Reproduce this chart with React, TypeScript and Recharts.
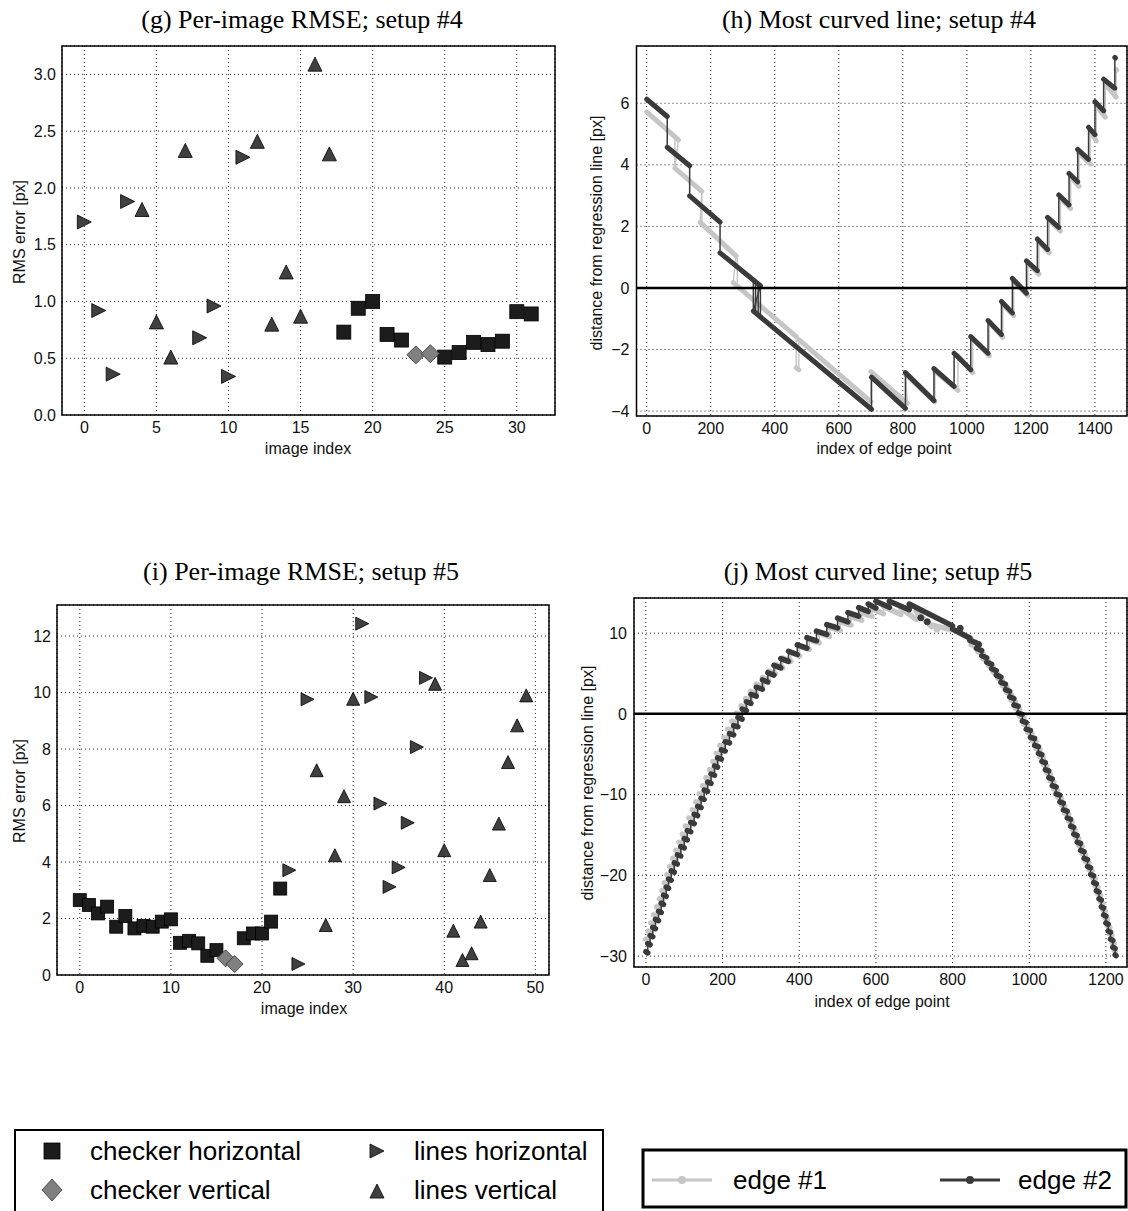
import {
  ScatterChart,
  Scatter,
  LineChart,
  Line,
  XAxis,
  YAxis,
  CartesianGrid,
  ReferenceArea,
  ReferenceLine,
} from "recharts"

const SANS = "'Liberation Sans', Arial, sans-serif"
const SERIF = "'Liberation Serif', 'Times New Roman', serif"
const LIGHT = "#c6c6c6"
const DARK = "#3a3a3a"

// (g) setup #4 -- [image index, RMS error px]
const gCheckerHorizontal = [
  [18, 0.73], [19, 0.94], [20, 1.0], [21, 0.71], [22, 0.66], [25, 0.51],
  [26, 0.55], [27, 0.64], [28, 0.62], [29, 0.65], [30, 0.91], [31, 0.89],
]
const gCheckerVertical = [[23, 0.53], [24, 0.54]]
const gLinesHorizontal = [
  [0, 1.7], [1, 0.92], [2, 0.36], [3, 1.88], [8, 0.68], [9, 0.96], [10, 0.34], [11, 2.27],
]
const gLinesVertical = [
  [4, 1.81], [5, 0.82], [6, 0.51], [7, 2.33], [12, 2.41], [13, 0.8], [14, 1.26],
  [15, 0.87], [16, 3.09], [17, 2.3],
]

// (i) setup #5
const iCheckerHorizontal = [
  [0, 2.65], [1, 2.48], [2, 2.18], [3, 2.42], [4, 1.71], [5, 2.09], [6, 1.65],
  [7, 1.74], [8, 1.71], [9, 1.89], [10, 1.97], [11, 1.14], [12, 1.21], [13, 1.12],
  [14, 0.68], [15, 0.88], [18, 1.3], [19, 1.47], [20, 1.47], [21, 1.89], [22, 3.06],
]
const iCheckerVertical = [[16, 0.59], [17, 0.39]]
const iLinesHorizontal = [
  [23, 3.71], [24, 0.39], [25, 9.76], [31, 12.44], [32, 9.84], [33, 6.07],
  [34, 3.12], [35, 3.81], [36, 5.39], [37, 8.07], [38, 10.52],
]
const iLinesVertical = [
  [26, 7.25], [27, 1.77], [28, 4.24], [29, 6.33], [30, 9.78], [39, 10.31],
  [40, 4.42], [41, 1.57], [42, 0.53], [43, 0.77], [44, 1.89], [45, 3.54],
  [46, 5.36], [47, 7.54], [48, 8.84], [49, 9.9],
]

// (h) most curved line, setup #4 -- runs of edge points [x1, y1, x2, y2]
const hEdge1Runs = [
  [0, 5.72, 99, 4.81], [88, 3.89, 172, 3.14], [167, 2.13, 279, 1.04],
  [270, 0.17, 467, -1.58], [467, -2.6, 475, -2.66], [475, -1.68, 700, -3.69],
  [700, -2.72, 814, -3.75], [808, -2.8, 900, -3.7], [900, -2.7, 972, -3.33],
  [972, -2.2, 1018, -2.75], [1018, -1.65, 1070, -2.2], [1070, -1.12, 1112, -1.6],
  [1112, -0.52, 1146, -0.9], [1146, 0.2, 1190, -0.25], [1190, 0.8, 1225, 0.45],
  [1225, 1.5, 1257, 1.14], [1257, 2.2, 1292, 1.85], [1292, 2.92, 1324, 2.58],
  [1324, 3.62, 1350, 3.3], [1350, 4.38, 1385, 4.03], [1385, 5.1, 1404, 4.78],
  [1404, 5.92, 1432, 5.55], [1432, 6.62, 1466, 6.2], [1466, 7.1, 1468, 7.08],
]
const hEdge1Jumps = [[88, 4.93, 3.89], [283, 1.0, 0.17], [172, 3.14, 2.13]]
const hEdge2Runs = [
  [0, 6.13, 64, 5.57], [64, 4.57, 134, 3.97], [134, 2.99, 229, 2.14],
  [229, 1.14, 355, 0.07], [333, -0.75, 702, -3.94], [702, -2.9, 808, -3.91],
  [808, -2.75, 897, -3.66], [897, -2.62, 960, -3.2], [960, -2.12, 1012, -2.66],
  [1012, -1.58, 1066, -2.12], [1066, -1.06, 1108, -1.51], [1108, -0.44, 1142, -0.81],
  [1142, 0.31, 1186, -0.17], [1186, 0.88, 1220, 0.56], [1220, 1.59, 1252, 1.25],
  [1252, 2.29, 1287, 1.97], [1287, 3.02, 1319, 2.7], [1319, 3.72, 1346, 3.45],
  [1346, 4.5, 1380, 4.18], [1380, 5.22, 1400, 4.98], [1400, 6.05, 1427, 5.76],
  [1427, 6.78, 1462, 6.49], [1462, 7.49, 1464, 7.47],
]
const hEdge2Jumps = [[333, 0.26, -0.75], [340, 0.2, -0.8], [348, 0.13, -0.87], [355, 0.07, -0.92]]

// (j) most curved line, setup #5 -- steps [x start, y start, y end], each runs to the next x
const jEdge1Steps = [
  [0, -27.9, -28.05], [6, -26.9, -27.05], [13, -25.9, -26.05], [20, -24.9, -25.05],
  [28, -23.9, -24.05], [35, -22.9, -23.05], [42, -21.9, -22.05], [48, -20.9, -21.05],
  [55, -19.9, -20.05], [62, -18.9, -19.05], [70, -17.9, -18.05], [78, -16.9, -17.05],
  [86, -15.9, -16.05], [95, -14.9, -15.05], [103, -13.9, -14.05], [112, -12.9, -13.05],
  [121, -11.9, -12.05], [130, -10.9, -11.05], [139, -9.9, -10.05], [148, -8.9, -9.05],
  [157, -7.9, -8.05], [166, -6.9, -7.05], [175, -5.9, -6.05], [184, -4.9, -5.05],
  [193, -3.9, -4.05], [203, -2.9, -3.05], [213, -1.9, -2.05], [224, -0.9, -1.1],
  [236, 0.1, -0.1], [248, 1.0, 0.8], [260, 1.9, 1.7], [273, 2.8, 2.55],
  [288, 3.7, 3.4], [304, 4.5, 4.2], [320, 5.3, 5.0], [338, 6.1, 5.7],
  [357, 6.9, 6.5], [378, 7.6, 7.2], [401, 8.4, 8.0], [426, 9.2, 8.8],
  [452, 10.0, 9.6], [479, 10.7, 10.3], [507, 11.4, 11.0], [535, 12.0, 11.6],
  [563, 12.5, 12.1], [590, 13.0, 12.4], [620, 13.3, 12.3], [665, 13.1, 11.7],
  [705, 12.7, 10.8], [745, 11.0, 10.5], [790, 10.7, 9.3],
  [848, 8.6, 8.3], [866, 7.7, 7.45], [880, 6.8, 6.55], [893, 6.0, 5.75],
  [906, 5.2, 4.95], [918, 4.4, 4.15], [930, 3.5, 3.3], [942, 2.6, 2.4],
  [953, 1.7, 1.5], [964, 0.7, 0.55], [975, -0.3, -0.45], [986, -1.3, -1.45],
  [996, -2.3, -2.45], [1007, -3.3, -3.45], [1018, -4.3, -4.45], [1028, -5.3, -5.45],
  [1037, -6.3, -6.45], [1046, -7.3, -7.45], [1055, -8.3, -8.45], [1064, -9.3, -9.45],
  [1074, -10.3, -10.45], [1084, -11.3, -11.45], [1093, -12.3, -12.45], [1103, -13.3, -13.45],
  [1112, -14.3, -14.45], [1120, -15.3, -15.45], [1129, -16.3, -16.45], [1138, -17.3, -17.45],
  [1147, -18.3, -18.45], [1156, -19.3, -19.45], [1164, -20.3, -20.45], [1172, -21.3, -21.45],
  [1179, -22.3, -22.45], [1186, -23.3, -23.45], [1192, -24.3, -24.45], [1198, -25.3, -25.45],
  [1204, -26.3, -26.45], [1210, -27.3, -27.45], [1216, -28.3, -28.45], [1222, -29.3, -29.45],
]
const jEdge2Steps = [
  [0, -29.45, -29.6], [5, -28.45, -28.6], [11, -27.45, -27.6], [18, -26.45, -26.6],
  [25, -25.45, -25.6], [33, -24.45, -24.6], [40, -23.45, -23.6], [46, -22.45, -22.6],
  [53, -21.45, -21.6], [59, -20.45, -20.6], [66, -19.45, -19.6], [74, -18.45, -18.6],
  [82, -17.45, -17.6], [91, -16.45, -16.6], [100, -15.45, -15.6], [108, -14.45, -14.6],
  [117, -13.45, -13.6], [126, -12.45, -12.6], [135, -11.45, -11.6], [144, -10.45, -10.6],
  [152, -9.45, -9.6], [161, -8.45, -8.6], [170, -7.45, -7.6], [179, -6.45, -6.6],
  [187, -5.45, -5.6], [197, -4.45, -4.6], [207, -3.45, -3.6], [218, -2.45, -2.6],
  [229, -1.45, -1.6], [240, -0.45, -0.65], [251, 0.6, 0.4], [262, 1.5, 1.3],
  [274, 2.4, 2.2], [288, 3.3, 3.05], [304, 4.2, 3.95], [318, 5.1, 4.8],
  [334, 6.0, 5.7], [352, 6.85, 6.5], [372, 7.75, 7.35], [395, 8.55, 8.15],
  [420, 9.45, 9.05], [445, 10.25, 9.85], [472, 11.05, 10.65], [500, 11.85, 11.4],
  [527, 12.55, 12.1], [555, 13.15, 12.7], [580, 13.6, 13.1], [600, 13.95, 13.2],
  [635, 13.95, 12.9], [687, 13.6, 10.9],
  [800, 10.5, 9.4], [845, 9.1, 8.8], [862, 8.1, 7.85], [876, 7.2, 6.95],
  [889, 6.4, 6.15], [902, 5.6, 5.35], [914, 4.8, 4.55], [926, 3.9, 3.7],
  [938, 3.0, 2.8], [949, 2.1, 1.9], [960, 1.1, 0.95], [971, 0.1, -0.05],
  [982, -0.9, -1.05], [992, -1.9, -2.05], [1003, -2.9, -3.05], [1014, -3.9, -4.05],
  [1024, -4.9, -5.05], [1033, -5.9, -6.05], [1042, -6.9, -7.05], [1051, -7.9, -8.05],
  [1060, -8.9, -9.05], [1070, -9.9, -10.05], [1080, -10.9, -11.05], [1089, -11.9, -12.05],
  [1099, -12.9, -13.05], [1108, -13.9, -14.05], [1116, -14.9, -15.05], [1125, -15.9, -16.05],
  [1134, -16.9, -17.05], [1143, -17.9, -18.05], [1152, -18.9, -19.05], [1160, -19.9, -20.05],
  [1168, -20.9, -21.05], [1175, -21.9, -22.05], [1182, -22.9, -23.05], [1188, -23.9, -24.05],
  [1194, -24.9, -25.05], [1200, -25.9, -26.05], [1206, -26.9, -27.05], [1212, -27.9, -28.05],
  [1218, -28.9, -29.05], [1224, -29.85, -29.95],
]
const jEdge1Strays = [[759, 10.5]]
const jEdge2Strays = [[717, 11.9], [734, 11.4], [820, 10.6], [868, 8.6]]

type Row = { x: number; y: number | null }

const toPoints = (pairs: number[][]) => pairs.map(([x, y]) => ({ x, y }))

// thick runs, broken between runs
function runRows(runs: number[][]): Row[] {
  const rows: Row[] = []
  runs.forEach(([x1, y1, x2, y2]) => {
    rows.push({ x: x1, y: y1 }, { x: x2, y: y2 }, { x: x2, y: null })
  })
  return rows
}

// thin polyline through every run end (draws the jumps)
function chainRows(runs: number[][]): Row[] {
  const rows: Row[] = []
  runs.forEach(([x1, y1, x2, y2]) => rows.push({ x: x1, y: y1 }, { x: x2, y: y2 }))
  return rows
}

function jumpRows(jumps: number[][]): Row[] {
  const rows: Row[] = []
  jumps.forEach(([x, y1, y2]) => rows.push({ x, y: y1 }, { x, y: y2 }, { x, y: null }))
  return rows
}

function stepsToRuns(steps: number[][]): number[][] {
  return steps.map(([x, y1, y2], i) => {
    const next = i < steps.length - 1 ? steps[i + 1][0] : x + 2
    return [x, y1, next, y2]
  })
}

const minus = (v: number) => String(v).replace("-", "\u2212")
const tickStyle = { fontSize: 16, fill: "#111", fontFamily: SANS }

// ---- markers ----
function SquareMark({ cx, cy, s = 14 }: { cx: number; cy: number; s?: number }) {
  return <rect x={cx - s / 2} y={cy - s / 2} width={s} height={s} fill="#1c1c1c" stroke="#000" strokeWidth={0.8} />
}
function DiamondMark({ cx, cy, w = 18, h = 18 }: { cx: number; cy: number; w?: number; h?: number }) {
  return (
    <polygon
      points={`${cx},${cy - h / 2} ${cx + w / 2},${cy} ${cx},${cy + h / 2} ${cx - w / 2},${cy}`}
      fill="#808080"
      stroke="#333"
      strokeWidth={0.8}
    />
  )
}
function RightMark({ cx, cy, s = 14 }: { cx: number; cy: number; s?: number }) {
  return (
    <polygon
      points={`${cx - s / 2},${cy - s / 2} ${cx + s / 2},${cy} ${cx - s / 2},${cy + s / 2}`}
      fill="#404040"
      stroke="#000"
      strokeWidth={0.8}
    />
  )
}
function UpMark({ cx, cy, s = 14 }: { cx: number; cy: number; s?: number }) {
  return (
    <polygon
      points={`${cx},${cy - s / 2} ${cx + s / 2},${cy + s / 2} ${cx - s / 2},${cy + s / 2}`}
      fill="#404040"
      stroke="#000"
      strokeWidth={0.8}
    />
  )
}

interface RmseProps {
  checkerH: number[][]
  checkerV: number[][]
  linesH: number[][]
  linesV: number[][]
  xDomain: [number, number]
  yDomain: [number, number]
  xTicks: number[]
  yTicks: number[]
  yFormat: (v: number) => string
  yWidth: number
  margin: { top: number; right: number; bottom: number; left: number }
  mark: number
}

function RmseChart(p: RmseProps) {
  return (
    <ScatterChart width={560} height={470} margin={p.margin}>
      <CartesianGrid stroke="#222" strokeDasharray="1 3" strokeWidth={1} />
      <XAxis
        type="number"
        dataKey="x"
        domain={p.xDomain}
        ticks={p.xTicks}
        allowDataOverflow
        height={55}
        axisLine={false}
        tickLine={false}
        tickSize={0}
        tickMargin={7}
        tick={tickStyle}
      />
      <YAxis
        type="number"
        dataKey="y"
        domain={p.yDomain}
        ticks={p.yTicks}
        allowDataOverflow
        width={p.yWidth}
        axisLine={false}
        tickLine={false}
        tickSize={0}
        tickMargin={6}
        tick={tickStyle}
        tickFormatter={p.yFormat}
      />
      <ReferenceArea
        x1={p.xDomain[0]}
        x2={p.xDomain[1]}
        y1={p.yDomain[0]}
        y2={p.yDomain[1]}
        fill="none"
        stroke="#000"
        strokeWidth={1.5}
      />
      <Scatter
        data={toPoints(p.linesH)}
        isAnimationActive={false}
        shape={(s: any) => <RightMark cx={s.cx} cy={s.cy} s={p.mark} />}
      />
      <Scatter
        data={toPoints(p.linesV)}
        isAnimationActive={false}
        shape={(s: any) => <UpMark cx={s.cx} cy={s.cy} s={p.mark} />}
      />
      <Scatter
        data={toPoints(p.checkerH)}
        isAnimationActive={false}
        shape={(s: any) => <SquareMark cx={s.cx} cy={s.cy} s={p.mark} />}
      />
      <Scatter
        data={toPoints(p.checkerV)}
        isAnimationActive={false}
        shape={(s: any) => <DiamondMark cx={s.cx} cy={s.cy} w={p.mark + 4} h={p.mark + 4} />}
      />
    </ScatterChart>
  )
}

interface CurveProps {
  edge1Runs: number[][]
  edge2Runs: number[][]
  edge1Jumps?: number[][]
  edge2Jumps?: number[][]
  edge1Strays?: number[][]
  edge2Strays?: number[][]
  xDomain: [number, number]
  yDomain: [number, number]
  xTicks: number[]
  yTicks: number[]
  yWidth: number
  xHeight: number
  runWidth: number
  margin: { top: number; right: number; bottom: number; left: number }
}

function CurveChart(p: CurveProps) {
  const thin = (data: Row[], color: string, w: number) => (
    <Line
      data={data}
      dataKey="y"
      stroke={color}
      strokeWidth={w}
      dot={false}
      activeDot={false}
      connectNulls={false}
      isAnimationActive={false}
    />
  )
  const thick = (data: Row[], color: string) => (
    <Line
      data={data}
      dataKey="y"
      stroke={color}
      strokeWidth={p.runWidth}
      strokeLinecap="round"
      dot={false}
      activeDot={false}
      connectNulls={false}
      isAnimationActive={false}
    />
  )
  const strays = (pairs: number[][], color: string) => (
    <Line
      data={toPoints(pairs)}
      dataKey="y"
      stroke="none"
      dot={{ r: 3, fill: color, stroke: color }}
      activeDot={false}
      isAnimationActive={false}
    />
  )
  return (
    <LineChart width={548} height={470} margin={p.margin}>
      <CartesianGrid stroke="#222" strokeDasharray="1 3" strokeWidth={1} />
      <XAxis
        type="number"
        dataKey="x"
        domain={p.xDomain}
        ticks={p.xTicks}
        allowDataOverflow
        height={p.xHeight}
        axisLine={false}
        tickLine={false}
        tickSize={0}
        tickMargin={7}
        tick={tickStyle}
      />
      <YAxis
        type="number"
        domain={p.yDomain}
        ticks={p.yTicks}
        allowDataOverflow
        width={p.yWidth}
        axisLine={false}
        tickLine={false}
        tickSize={0}
        tickMargin={7}
        tick={tickStyle}
        tickFormatter={minus}
      />
      {thin(chainRows(p.edge1Runs), LIGHT, 1.5)}
      {p.edge1Jumps && thin(jumpRows(p.edge1Jumps), LIGHT, 1.5)}
      {thick(runRows(p.edge1Runs), LIGHT)}
      {p.edge1Strays && strays(p.edge1Strays, LIGHT)}
      {thin(chainRows(p.edge2Runs), DARK, 1.5)}
      {p.edge2Jumps && thin(jumpRows(p.edge2Jumps), DARK, 1.5)}
      {thick(runRows(p.edge2Runs), DARK)}
      {p.edge2Strays && strays(p.edge2Strays, DARK)}
      <ReferenceLine y={0} stroke="#000" strokeWidth={2.5} />
      <ReferenceArea
        x1={p.xDomain[0]}
        x2={p.xDomain[1]}
        y1={p.yDomain[0]}
        y2={p.yDomain[1]}
        fill="none"
        stroke="#000"
        strokeWidth={1.5}
      />
    </LineChart>
  )
}

function Overlay() {
  const title = { fontFamily: SERIF, fontSize: 26, fill: "#000", textAnchor: "middle" as const }
  const axis = { fontFamily: SANS, fontSize: 16, fill: "#111", textAnchor: "middle" as const, dominantBaseline: "central" as const }
  const leg = { fontFamily: SANS, fontSize: 26, fill: "#000", dominantBaseline: "central" as const }
  return (
    <svg width={1128} height={1211} style={{ position: "absolute", left: 0, top: 0, pointerEvents: "none" }}>
      <text x={302} y={28} {...title}>(g) Per-image RMSE; setup #4</text>
      <text x={879} y={28} {...title}>(h) Most curved line; setup #4</text>
      <text x={301} y={580} {...title}>(i) Per-image RMSE; setup #5</text>
      <text x={878} y={580} {...title}>(j) Most curved line; setup #5</text>

      <text x={308} y={448} {...axis}>image index</text>
      <text x={884} y={448} {...axis}>index of edge point</text>
      <text x={304} y={1008} {...axis}>image index</text>
      <text x={882} y={1001} {...axis}>index of edge point</text>
      <text transform="translate(19,232) rotate(-90)" {...axis}>RMS error [px]</text>
      <text transform="translate(596,233) rotate(-90)" {...axis}>distance from regression line [px]</text>
      <text transform="translate(19,791) rotate(-90)" {...axis}>RMS error [px]</text>
      <text transform="translate(587,783) rotate(-90)" {...axis}>distance from regression line [px]</text>

      {/* marker legend */}
      <rect x={15} y={1130} width={588} height={90} fill="#fff" stroke="#000" strokeWidth={2} />
      <SquareMark cx={52} cy={1151} s={16} />
      <text x={90} y={1151} {...leg}>checker horizontal</text>
      <DiamondMark cx={52} cy={1190} w={20} h={22} />
      <text x={90} y={1190} {...leg}>checker vertical</text>
      <RightMark cx={377} cy={1151} s={14} />
      <text x={414} y={1151} {...leg}>lines horizontal</text>
      <UpMark cx={377} cy={1191} s={14} />
      <text x={414} y={1190} {...leg}>lines vertical</text>

      {/* edge legend */}
      <rect x={643} y={1150} width={483} height={57} fill="#fff" stroke="#000" strokeWidth={3} />
      <line x1={652} y1={1180} x2={712} y2={1180} stroke={LIGHT} strokeWidth={3} />
      <circle cx={682} cy={1180} r={4} fill={LIGHT} />
      <text x={733} y={1180} {...leg}>edge #1</text>
      <line x1={940} y1={1180} x2={1000} y2={1180} stroke={DARK} strokeWidth={3} />
      <circle cx={970} cy={1180} r={4} fill={DARK} />
      <text x={1018} y={1180} {...leg}>edge #2</text>
    </svg>
  )
}

export default function App() {
  return (
    <div
      style={{
        position: "absolute",
        left: 0,
        top: 0,
        width: 1128,
        height: 1211,
        background: "#fff",
        overflow: "hidden",
        fontFamily: SANS,
      }}
    >
      <div style={{ position: "absolute", left: 0, top: 0 }}>
        <RmseChart
          checkerH={gCheckerHorizontal}
          checkerV={gCheckerVertical}
          linesH={gLinesHorizontal}
          linesV={gLinesVertical}
          xDomain={[-1.55, 32.65]}
          yDomain={[0, 3.25]}
          xTicks={[0, 5, 10, 15, 20, 25, 30]}
          yTicks={[0, 0.5, 1, 1.5, 2, 2.5, 3]}
          yFormat={(v) => v.toFixed(1)}
          yWidth={62}
          margin={{ top: 46, right: 5, bottom: 0, left: 0 }}
          mark={14}
        />
      </div>
      <div style={{ position: "absolute", left: 0, top: 560 }}>
        <RmseChart
          checkerH={iCheckerHorizontal}
          checkerV={iCheckerVertical}
          linesH={iLinesHorizontal}
          linesV={iLinesVertical}
          xDomain={[-2.5, 51.5]}
          yDomain={[0, 13.1]}
          xTicks={[0, 10, 20, 30, 40, 50]}
          yTicks={[0, 2, 4, 6, 8, 10, 12]}
          yFormat={(v) => String(v)}
          yWidth={57}
          margin={{ top: 45, right: 11, bottom: 0, left: 0 }}
          mark={13}
        />
      </div>
      <div style={{ position: "absolute", left: 580, top: 0 }}>
        <CurveChart
          edge1Runs={hEdge1Runs}
          edge2Runs={hEdge2Runs}
          edge1Jumps={hEdge1Jumps}
          edge2Jumps={hEdge2Jumps}
          xDomain={[-32, 1500]}
          yDomain={[-4.16, 7.86]}
          xTicks={[0, 200, 400, 600, 800, 1000, 1200, 1400]}
          yTicks={[-4, -2, 0, 2, 4, 6]}
          yWidth={56.5}
          xHeight={54}
          runWidth={5}
          margin={{ top: 46, right: 1, bottom: 0, left: 0 }}
        />
      </div>
      <div style={{ position: "absolute", left: 580, top: 560 }}>
        <CurveChart
          edge1Runs={stepsToRuns(jEdge1Steps)}
          edge2Runs={stepsToRuns(jEdge2Steps)}
          edge1Strays={jEdge1Strays}
          edge2Strays={jEdge2Strays}
          xDomain={[-31, 1255]}
          yDomain={[-31.35, 14.35]}
          xTicks={[0, 200, 400, 600, 800, 1000, 1200]}
          yTicks={[-30, -20, -10, 0, 10]}
          yWidth={54}
          xHeight={63}
          runWidth={5.5}
          margin={{ top: 38, right: 1, bottom: 0, left: 0 }}
        />
      </div>
      <Overlay />
    </div>
  )
}
